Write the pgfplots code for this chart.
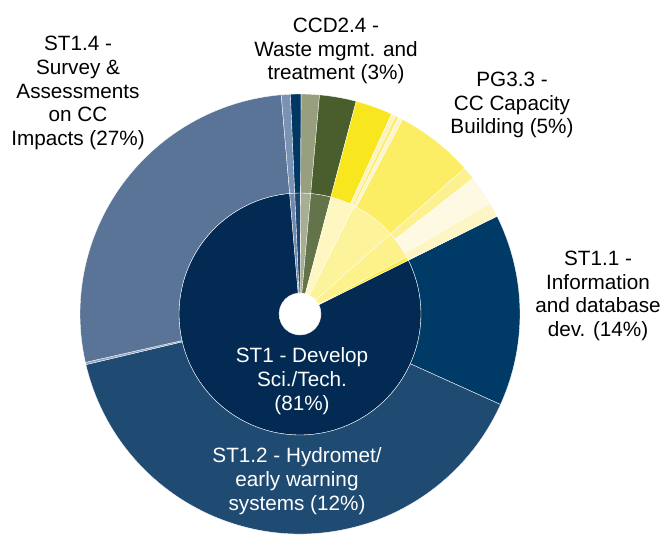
\documentclass[border=0pt]{standalone}
\usepackage{pgfplots}
\usepackage{pgfplotstable}
\pgfplotsset{compat=1.18}
\usepackage{fontspec}
\setmainfont{Liberation Sans}

% sector colours
\definecolor{st1}{HTML}{022A52}
\definecolor{st11}{HTML}{003B68}
\definecolor{st12}{HTML}{1F4A72}
\definecolor{st13}{HTML}{8EA3C2}
\definecolor{st14}{HTML}{5A7498}
\definecolor{ltblueI}{HTML}{7189AC}
\definecolor{ltblueO}{HTML}{7A93B5}
\definecolor{dkblueI}{HTML}{1C4570}
\definecolor{dkblueO}{HTML}{013763}
\definecolor{grgrnI}{HTML}{A7AE93}
\definecolor{grgrnO}{HTML}{979F7F}
\definecolor{oliveI}{HTML}{63744A}
\definecolor{oliveO}{HTML}{4A5E2D}
\definecolor{creamI}{HTML}{FEF7C2}
\definecolor{paleI}{HTML}{FCF39A}
\definecolor{yelI}{HTML}{FCF18A}
\definecolor{brightI}{HTML}{FCEB3C}
\definecolor{brightO}{HTML}{F8E71F}
\definecolor{stripeA}{HTML}{FCF3B8}
\definecolor{stripeB}{HTML}{FBEE7A}
\definecolor{stripeC}{HTML}{FDF5C9}
\definecolor{yelO}{HTML}{FBEE65}
\definecolor{yel2O}{HTML}{FCF08F}
\definecolor{creamO}{HTML}{FEF9E3}
\definecolor{paleO}{HTML}{FDF5C3}

% start angle, end angle (deg, ccw), inner and outer radius (bp), colour
\pgfplotstableread{
a      b      ri   ro   col
94.9   386.4  21   121  st1
92.5   94.9   21   121  ltblueI
89.7   92.5   21   121  dkblueI
84.9   89.7   21   121  grgrnI
75.2   84.9   21   121  oliveI
63.3   75.2   21   121  creamI
41.5   63.3   21   121  paleI
28.2   41.5   21   121  yelI
26.4   28.2   21   121  brightI
335.7  386.4  121  220  st11
193.3  335.7  121  220  st12
192.7  193.3  121  220  st13
94.9   192.7  121  220  st14
92.5   94.9   121  220  ltblueO
89.7   92.5   121  220  dkblueO
84.9   89.7   121  220  grgrnO
75.2   84.9   121  220  oliveO
65.4   75.2   121  220  brightO
64.3   65.4   121  220  stripeA
63.3   64.3   121  220  stripeB
62.2   63.3   121  220  stripeC
41.5   62.2   121  220  yelO
38.1   41.5   121  220  yel2O
30.2   38.1   121  220  creamO
26.4   30.2   121  220  paleO
}\sectors

\begin{document}
\begin{tikzpicture}
\begin{axis}[
    x=1bp, y=1bp,
    xmin=-300, xmax=365,
    ymin=-220, ymax=314,
    hide axis,
    clip=false,
]
% keep the whole axis box as the picture's frame
\path (rel axis cs:0,0) rectangle (rel axis cs:1,1);
\pgfplotstablegetrowsof{\sectors}
\pgfmathtruncatemacro\N{\pgfplotsretval-1}
\pgfplotsforeachungrouped \i in {0,...,\N}{
    \pgfplotstablegetelem{\i}{a}\of\sectors \let\sa\pgfplotsretval
    \pgfplotstablegetelem{\i}{b}\of\sectors \let\sb\pgfplotsretval
    \pgfplotstablegetelem{\i}{ri}\of\sectors \let\si\pgfplotsretval
    \pgfplotstablegetelem{\i}{ro}\of\sectors \let\so\pgfplotsretval
    \pgfplotstablegetelem{\i}{col}\of\sectors \let\sc\pgfplotsretval
    \edef\temp{\noexpand\fill[fill=\sc, draw=white, line width=0.35bp]
        (axis cs:0,0) ++(\sa:\so bp)
        arc[start angle=\sa, end angle=\sb, radius=\so bp]
        -- ([shift={(\sb:\si bp)}]axis cs:0,0)
        arc[start angle=\sb, end angle=\sa, radius=\si bp] -- cycle;}
    \temp
}

\begin{scope}[every node/.style={align=center, inner sep=0pt,
        font=\fontsize{20.7bp}{23.7bp}\selectfont}]
\node at (axis cs:-222,221) {ST1.4 -\\Survey \&\\Assessments\\on CC\\Impacts (27\%)};
\node at (axis cs:36,263) {CCD2.4 -\\Waste mgmt. and\\treatment (3\%)};
\node at (axis cs:212,209) {PG3.3 -\\CC Capacity\\Building (5\%)};
\node at (axis cs:298,18) {ST1.1 -\\Information\\and database\\dev. (14\%)};
\node[text=white] at (axis cs:2,-67) {ST1 - Develop\\Sci./Tech.\\(81\%)};
\node[text=white] at (axis cs:-3,-167) {ST1.2 - Hydromet/\\early warning\\systems (12\%)};
\end{scope}
\end{axis}
\end{tikzpicture}
\end{document}
